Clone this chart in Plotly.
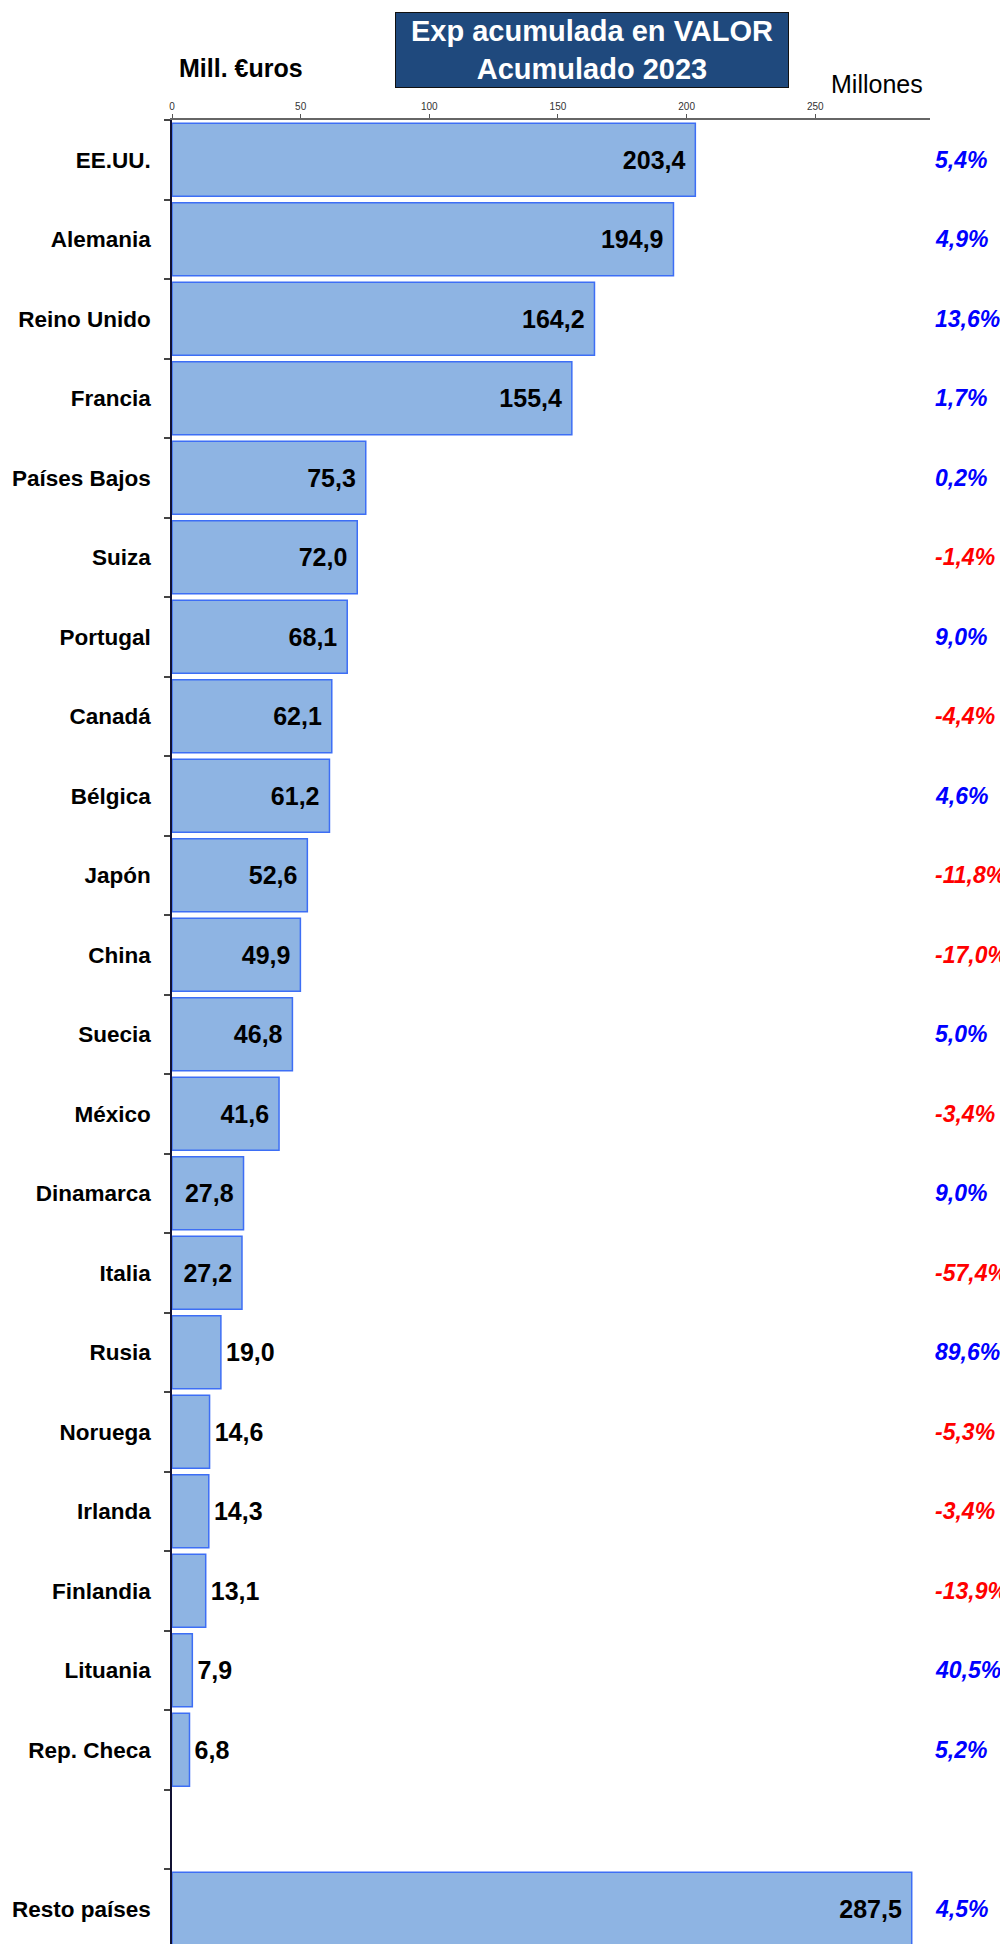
import plotly.graph_objects as go

countries = ["EE.UU.", "Alemania", "Reino Unido", "Francia", "Países Bajos", "Suiza",
             "Portugal", "Canadá", "Bélgica", "Japón", "China", "Suecia", "México",
             "Dinamarca", "Italia", "Rusia", "Noruega", "Irlanda", "Finlandia",
             "Lituania", "Rep. Checa", " ", "Resto países"]
values = [203.4, 194.9, 164.2, 155.4, 75.3, 72.0, 68.1, 62.1, 61.2, 52.6, 49.9, 46.8,
          41.6, 27.8, 27.2, 19.0, 14.6, 14.3, 13.1, 7.9, 6.8, None, 287.5]
changes = [5.4, 4.9, 13.6, 1.7, 0.2, -1.4, 9.0, -4.4, 4.6, -11.8, -17.0, 5.0, -3.4,
           9.0, -57.4, 89.6, -5.3, -3.4, -13.9, 40.5, 5.2, None, 4.5]
x_ticks = [0, 50, 100, 150, 200, 250]

title_text = "Exp acumulada en VALOR<br>Acumulado 2023"
unit_left = "Mill. €uros"
unit_right = "Millones"

FONT = "Liberation Sans, Arial, sans-serif"

# page body has an 8px margin; compensate so the figure fills the window
OFF = 8
W, H = 1008 - OFF, 1944 - OFF
PLOT_L, PLOT_R, PLOT_T = 172, 930, 120          # window pixel positions
ML, MT, MB = PLOT_L - OFF, PLOT_T - OFF, 0
MR = W - (PLOT_R - OFF)
PW = PLOT_R - PLOT_L
PH = H - MT - MB
SLOT = 79.5
n_slots = PH / SLOT

def px_x(wx):
    return (wx - PLOT_L) / PW

def px_y(wy):
    return 1 + (PLOT_T - wy) / PH

def fmt(v):
    return "" if v is None else f"{v:.1f}".replace(".", ",")

inside = [v is not None and v > 25 for v in values]
texts = [(fmt(v) + "\u00a0") if ins else ("\u200a" + fmt(v)) for v, ins in zip(values, inside)]
positions = ["inside" if ins else "outside" for ins in inside]

fig = go.Figure()
fig.add_trace(go.Bar(
    y=countries, x=values, orientation="h",
    marker=dict(color="#8EB4E3", line=dict(color="#3D6EF5", width=1.5)),
    text=texts, textposition=positions, insidetextanchor="end",
    constraintext="none", cliponaxis=True,
    textfont=dict(family=FONT, size=25, color="black", weight="bold"),
    insidetextfont=dict(family=FONT, size=25, color="black", weight="bold"),
    outsidetextfont=dict(family=FONT, size=25, color="black", weight="bold"),
    hoverinfo="skip",
))

annotations = []
for c, ch in zip(countries, changes):
    if ch is None:
        continue
    annotations.append(dict(
        x=px_x(933), xref="paper", xanchor="left",
        y=c, yref="y", yanchor="middle",
        text=fmt(ch) + "%", showarrow=False,
        font=dict(family=FONT, size=23, color="#0000FF" if ch >= 0 else "#FF0000",
                  weight="bold", style="italic"),
    ))

annotations.append(dict(
    x=px_x(592), xref="paper", xanchor="center",
    y=px_y(49.5), yref="paper", yanchor="middle",
    text=title_text, showarrow=False, align="center",
    width=390, height=72, bgcolor="#1F497D", bordercolor="#111111", borderwidth=1,
    font=dict(family=FONT, size=29, color="white", weight="bold"),
))
annotations.append(dict(
    x=px_x(177), xref="paper", xanchor="left",
    y=px_y(68), yref="paper", yanchor="middle",
    text=unit_left, showarrow=False,
    font=dict(family=FONT, size=25, color="black", weight="bold"),
))
annotations.append(dict(
    x=px_x(829), xref="paper", xanchor="left",
    y=px_y(84), yref="paper", yanchor="middle",
    text=unit_right, showarrow=False,
    font=dict(family=FONT, size=25, color="black"),
))

fig.update_layout(
    width=W, height=H,
    margin=dict(l=ML, r=MR, t=MT, b=MB, autoexpand=False),
    paper_bgcolor="white", plot_bgcolor="white",
    showlegend=False, bargap=0.08,
    annotations=annotations,
    xaxis=dict(
        side="top", range=[0, 294.6], tickvals=x_ticks, automargin=False,
        ticks="outside", ticklen=4, tickwidth=1, tickcolor="#555555",
        showline=True, linecolor="#666666", linewidth=1.5,
        showgrid=False, zeroline=False,
        tickfont=dict(family=FONT, size=10, color="#333333"),
    ),
    yaxis=dict(
        type="category", categoryorder="array", categoryarray=countries,
        range=[n_slots - 0.5, -0.5], automargin=False,
        tickson="boundaries", ticks="outside", ticklen=6, tickwidth=1.5,
        tickcolor="#444444",
        showline=True, linecolor="#111133", linewidth=1.5,
        showgrid=False, zeroline=False, ticklabelstandoff=15,
        tickfont=dict(family=FONT, size=22.5, color="black", weight="bold"),
    ),
)

fig.write_html("out.html", config={"displayModeBar": False})
